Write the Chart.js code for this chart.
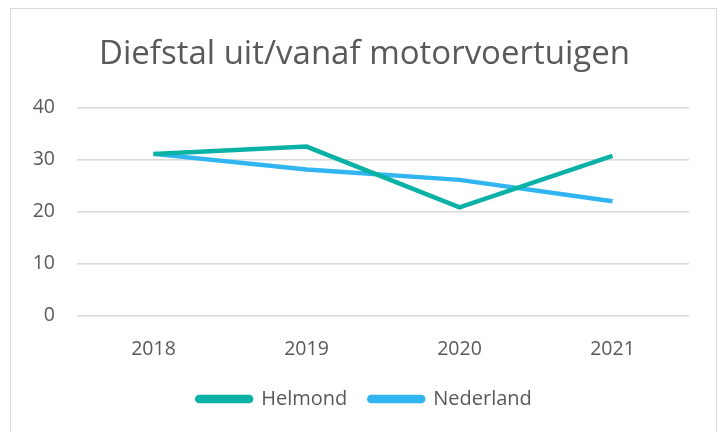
<html>
  <head>
    <script src="https://cdn.jsdelivr.net/npm/chart.js@4.4.0/dist/chart.umd.min.js"></script>
    <style>
      body { margin:0; background:#fff; }
      #box {
        position:absolute; left:10px; top:8px;
        width:707px; height:430px;
        border:1px solid #d9d9d9; box-sizing:border-box;
      }
    </style>
  </head>
  <body>
    <div id="box"><canvas id="line-chart"></canvas></div>
  </body>
  <script>
    // data
    var years = ['2018', '2019', '2020', '2021'];
    var helmond = [31.1, 32.5, 20.8, 30.7];
    var nederland = [31.1, 28.1, 26.1, 22.0];
    var yTicks = [0, 10, 20, 30, 40];

    var grey = '#595959';
    var font = "'Open Sans', 'Noto Sans', sans-serif";

    new Chart(document.getElementById('line-chart'), {
      type: 'line',
      data: {
        labels: years,
        datasets: [{
            label: 'Helmond',
            data: helmond,
            borderColor: '#0BB1A5',
            backgroundColor: '#0BB1A5',
            borderWidth: 4.5,
            pointRadius: 0,
            fill: false
          }, {
            label: 'Nederland',
            data: nederland,
            borderColor: '#30B5F1',
            backgroundColor: '#30B5F1',
            borderWidth: 4.5,
            pointRadius: 0,
            fill: false
          }
        ]
      },
      options: {
        responsive: true,
        maintainAspectRatio: false,
        animation: false,
        layout: { padding: { left: 15, right: 13, top: 10, bottom: 18 } },
        plugins: {
          title: {
            display: true,
            text: 'Diefstal uit/vanaf motorvoertuigen',
            color: grey,
            font: { family: font, size: 33, weight: 'normal' },
            padding: { top: 16, bottom: 33 }
          },
          legend: {
            position: 'bottom',
            labels: {
              color: grey,
              font: { family: font, size: 20 },
              boxWidth: 54,
              boxHeight: 4,
              padding: 22,
              useBorderRadius: true,
              borderRadius: 2
            }
          },
          tooltip: { enabled: false }
        },
        scales: {
          x: {
            offset: true,
            afterFit: function(axis) { axis.height = axis.height - 8; },
            grid: { display: false },
            border: { display: false },
            ticks: { color: grey, font: { family: font, size: 19.5 }, padding: 14 }
          },
          y: {
            min: 0,
            max: 40,
            afterBuildTicks: function(axis) {
              axis.ticks = yTicks.map(function(v) { return { value: v }; });
            },
            afterFit: function(axis) { axis.width = 51; },
            grid: { color: '#d9d9d9', lineWidth: 1.5, drawTicks: false },
            border: { display: false },
            ticks: { color: grey, font: { family: font, size: 19.5 }, padding: 22 }
          },
          // empty right axis, only keeps the plot's right edge where it is
          yr: {
            position: 'right',
            min: 0,
            max: 40,
            grid: { display: false },
            border: { display: false },
            ticks: { display: false },
            afterFit: function(axis) { axis.width = 14; }
          }
        }
      }
    });
  </script>
</html>
